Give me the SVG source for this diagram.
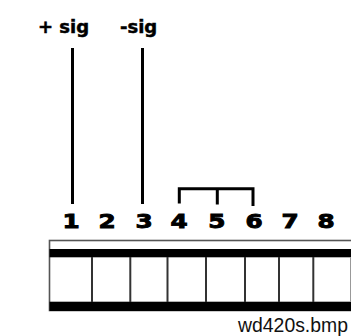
<svg xmlns="http://www.w3.org/2000/svg" width="351" height="336" viewBox="0 0 351 336">
  <style>
    .lbl { font-family: "DejaVu Sans", "Liberation Sans", sans-serif; font-weight: bold; fill: #000; stroke: #000; stroke-width: 0.5; }
    .pin { font-family: "DejaVu Sans", "Liberation Sans", sans-serif; font-weight: bold; font-size: 19px; fill: #000; stroke: #000; stroke-width: 0.9; text-anchor: middle; }
    .wire { stroke: #000; stroke-width: 3; fill: none; stroke-linecap: butt; }
    .cell { stroke: #333; stroke-width: 2; }
    .band { fill: #000; }
    .caption { font-family: "Liberation Sans", Arial, sans-serif; font-size: 20px; fill: #111; }
  </style>
  <rect width="351" height="336" fill="#fff"/>

  <!-- signal labels -->
  <g id="sig-plus"><text class="lbl" x="38" y="33" font-size="18">+ sig</text></g>
  <g id="sig-minus"><text class="lbl" x="120" y="33" font-size="18">-sig</text></g>

  <!-- wiring: signal leads and the 4-5-6 jumper -->
  <g id="connectors">
    <line class="wire" x1="72.5" y1="48" x2="72.5" y2="204"/>
    <line class="wire" x1="142.5" y1="48" x2="142.5" y2="204"/>
    <polyline class="wire" points="179.3,203.5 179.3,188.7 253,188.7 253,206"/>
    <line class="wire" x1="217.3" y1="188.7" x2="217.3" y2="204.5"/>
  </g>

  <!-- pin numbers (wide bold digits) -->
  <g id="pins" transform="scale(1.3 1)">
    <text class="pin" x="54.6" y="228">1</text>
    <text class="pin" x="82.3" y="228">2</text>
    <text class="pin" x="110.8" y="228">3</text>
    <text class="pin" x="137.7" y="228">4</text>
    <text class="pin" x="166.9" y="228">5</text>
    <text class="pin" x="195.4" y="228">6</text>
    <text class="pin" x="223.1" y="228">7</text>
    <text class="pin" x="250.8" y="228">8</text>
  </g>

  <!-- terminal block -->
  <g id="terminal-block">
    <rect x="49.5" y="240.5" width="310" height="70" fill="#fff" stroke="#555" stroke-width="1.6"/>
    <rect class="band" x="49.5" y="249" width="302" height="8.3"/>
    <rect class="band" x="49.5" y="301.7" width="302" height="9.3"/>
    <line class="cell" x1="92" y1="257" x2="92" y2="302"/>
    <line class="cell" x1="130.3" y1="257" x2="130.3" y2="302"/>
    <line class="cell" x1="167.5" y1="257" x2="167.5" y2="302"/>
    <line class="cell" x1="206" y1="257" x2="206" y2="302"/>
    <line class="cell" x1="245" y1="257" x2="245" y2="302"/>
    <line class="cell" x1="279" y1="257" x2="279" y2="302"/>
    <line class="cell" x1="313.3" y1="257" x2="313.3" y2="302"/>
    <line x1="350.5" y1="257" x2="350.5" y2="302" stroke="#999" stroke-width="1"/>
  </g>

  <g id="caption"><text class="caption" x="238" y="331.5" textLength="110" lengthAdjust="spacingAndGlyphs">wd420s.bmp</text></g>
</svg>
